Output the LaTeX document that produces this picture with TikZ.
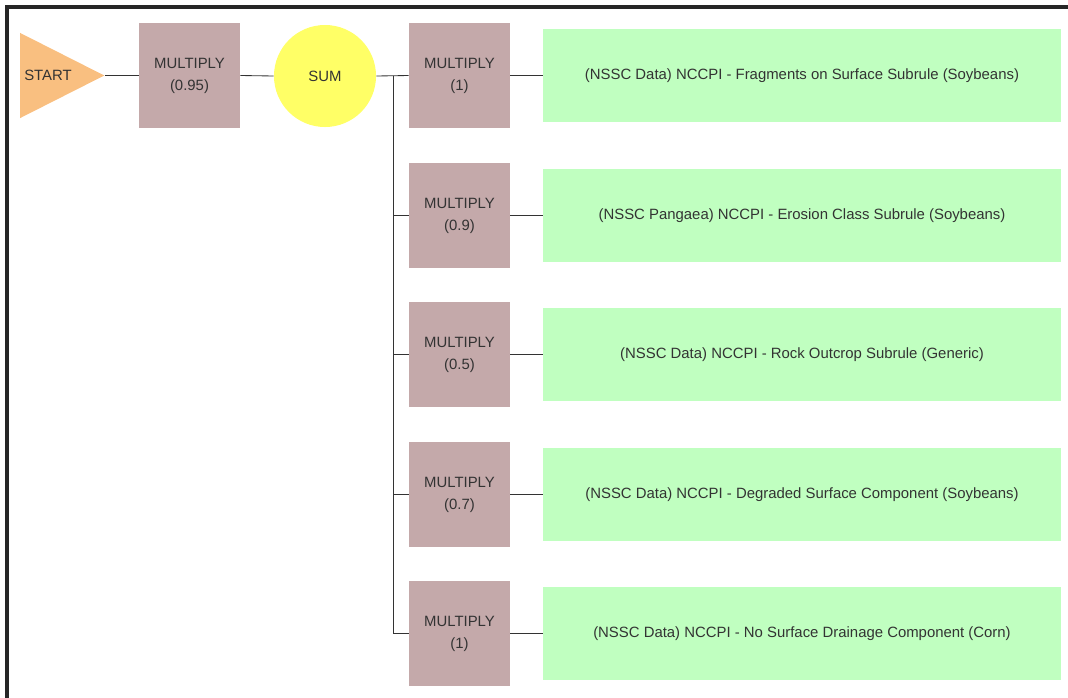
\documentclass[tikz,border=0pt]{standalone}
\usepackage{fontspec}
\setmainfont{Liberation Sans}
\usetikzlibrary{shapes.geometric}

\definecolor{startcol}{HTML}{F9BF80}
\definecolor{multcol}{HTML}{C4A9AA}
\definecolor{sumcol}{HTML}{FFFF66}
\definecolor{datacol}{HTML}{C0FFC0}
\definecolor{txtcol}{HTML}{333333}

\begin{document}
\begin{tikzpicture}[x=0.025cm, y=-0.025cm,
	every node/.style = {font=\fontsize{10.6}{15.6}\selectfont, text=txtcol, align=center, inner sep=0pt},
	start/.style = {isosceles triangle, isosceles triangle stretches, fill=startcol, minimum width=2.125cm, minimum height=2.1cm},
	mult/.style = {fill=multcol, minimum width=2.525cm, minimum height=2.625cm},
	sum/.style = {circle, fill=sumcol, minimum size=2.55cm},
	data/.style = {fill=datacol, minimum width=12.95cm, minimum height=2.325cm},
	link/.style = {draw=txtcol, line width=0.6pt}]
	\useasboundingbox (0,0) rectangle (1068,698);

	% frame, open at the right and bottom
	\draw[line width=2.2pt, draw=black!85] (7,698) -- (7,7) -- (1068,7);

	\node[start, anchor=apex] (start) at (105,75.5) {};
	\node at (48,75) {START};
	\node[mult] (m0) at (189.5,75.5) {MULTIPLY\\(0.95)};
	\node[sum] (sum) at (325,76) {SUM};

	\node[mult] (m1) at (459.5,75.5) {MULTIPLY\\(1)};
	\node[mult] (m2) at (459.5,215.5) {MULTIPLY\\(0.9)};
	\node[mult] (m3) at (459.5,354.5) {MULTIPLY\\(0.5)};
	\node[mult] (m4) at (459.5,494.5) {MULTIPLY\\(0.7)};
	\node[mult] (m5) at (459.5,633.5) {MULTIPLY\\(1)};

	\node[data] (g1) at (802,75.5) {(NSSC Data) NCCPI - Fragments on Surface Subrule (Soybeans)};
	\node[data] (g2) at (802,215.5) {(NSSC Pangaea) NCCPI - Erosion Class Subrule (Soybeans)};
	\node[data] (g3) at (802,354.5) {(NSSC Data) NCCPI - Rock Outcrop Subrule (Generic)};
	\node[data] (g4) at (802,494.5) {(NSSC Data) NCCPI - Degraded Surface Component (Soybeans)};
	\node[data] (g5) at (802,633.5) {(NSSC Data) NCCPI - No Surface Drainage Component (Corn)};

	\coordinate (bus) at (393,75.5);

	\draw[link] (start.apex) -- (m0.west);
	\draw[link] (m0.east) -- (sum.west);
	\draw[link] (sum.east) -- (m1.west);
	\draw[link] (bus) |- (m2.west);
	\draw[link] (bus) |- (m3.west);
	\draw[link] (bus) |- (m4.west);
	\draw[link] (bus) |- (m5.west);

	\draw[link] (m1.east) -- (g1.west);
	\draw[link] (m2.east) -- (g2.west);
	\draw[link] (m3.east) -- (g3.west);
	\draw[link] (m4.east) -- (g4.west);
	\draw[link] (m5.east) -- (g5.west);
\end{tikzpicture}
\end{document}
